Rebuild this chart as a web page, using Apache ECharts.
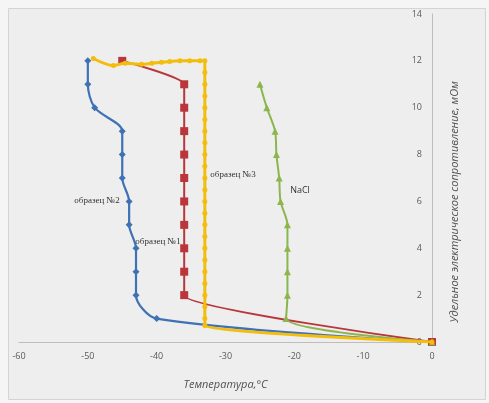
<!DOCTYPE html>
<html>
<head>
<meta charset="utf-8">
<script src="https://cdn.jsdelivr.net/npm/echarts@6/dist/echarts.min.js"></script>
<style>
  html, body { margin: 0; padding: 0; background: #f5f5f5; }
  #chart { width: 489px; height: 403px; }
</style>
</head>
<body>
<div id="chart"></div>
<script>
// Temperature (°C) and resistivity (mOhm) per sample
const sample2Temp = [-50, -50, -49, -45, -45, -45, -44, -44, -43, -43, -43, -40, 0];
const sample2Res  = [12, 11, 10, 9, 8, 7, 6, 5, 4, 3, 2, 1, 0];

const sample1Temp = [-45, -36, -36, -36, -36, -36, -36, -36, -36, -36, -36, 0];
const sample1Res  = [12, 11, 10, 9, 8, 7, 6, 5, 4, 3, 2, 0];

const naclTemp = [-25, -24, -22.8, -22.6, -22.2, -22, -21, -21, -21, -21, -21.2, 0];
const naclRes  = [11, 10, 9, 8, 7, 6, 5, 4, 3, 2, 1, 0];

const sample3Temp = [-49.2, -46.3, -44.6, -42.2, -40.7, -39.3, -38.1, -36.6, -35.2, -33.7, -33,
  -33, -33, -33, -33, -33, -33, -33, -33, -33, -33, -33,
  -33, -33, -33, -33, -33, -33, -33, -33, -33, -33, -33,
  -33, 0];
const sample3Res = [12.1, 11.8, 11.9, 11.85, 11.9, 11.94, 11.97, 12, 12, 12, 12,
  11.5, 11, 10.5, 10, 9.5, 9, 8.5, 8, 7.5, 7, 6.5,
  6, 5.5, 5, 4.5, 4, 3.5, 3, 2.5, 2, 1.5, 1,
  0.7, 0];

const xTicks = { min: -60, max: 0, interval: 10 };
const yTicks = { min: 0, max: 14, interval: 2 };

const pairs = (xs, ys) => xs.map((x, i) => [x, ys[i]]);

const chart = echarts.init(document.getElementById('chart'), null, { renderer: 'canvas' });

const labelFont = { fontFamily: 'Liberation Serif', fontSize: 9, fill: '#333' };

chart.setOption({
  backgroundColor: 'transparent',
  animation: false,
  graphic: [
    { type: 'rect', z: -10, shape: { x: 8.5, y: 8.5, width: 477, height: 391 },
      style: { fill: '#eeeeee', stroke: '#d4d4d4', lineWidth: 1 } },
    { type: 'text', x: 455, y: 202, rotation: Math.PI / 2,
      style: { text: 'Удельное электрическое сопротивление, мОм', fontFamily: 'Open Sans',
        fontStyle: 'italic', fontSize: 11, fill: '#505050', align: 'center', verticalAlign: 'middle' } },
    { type: 'text', x: 97, y: 201, style: Object.assign({ text: 'образец №2', align: 'center', verticalAlign: 'middle' }, labelFont) },
    { type: 'text', x: 158, y: 242, style: Object.assign({ text: 'образец №1', align: 'center', verticalAlign: 'middle' }, labelFont) },
    { type: 'text', x: 233, y: 175, style: Object.assign({ text: 'образец №3', align: 'center', verticalAlign: 'middle' }, labelFont) },
    { type: 'text', x: 300, y: 190, style: { text: 'NaCl', fontFamily: 'Open Sans', fontSize: 9, fill: '#333', align: 'center', verticalAlign: 'middle' } }
  ],
  grid: { left: 19, right: 57, top: 14, bottom: 61, containLabel: false },
  xAxis: {
    type: 'value', min: xTicks.min, max: xTicks.max, interval: xTicks.interval,
    name: 'Температура,°С', nameLocation: 'middle', nameGap: 37,
    nameTextStyle: { fontFamily: 'Open Sans', fontStyle: 'italic', fontSize: 11, color: '#505050' },
    axisLine: { lineStyle: { color: '#bdbdbd', width: 1 } },
    axisTick: { show: false },
    splitLine: { show: false },
    axisLabel: { fontFamily: 'Open Sans', fontSize: 9, color: '#5a5a5a', margin: 10 }
  },
  yAxis: {
    type: 'value', position: 'right', min: yTicks.min, max: yTicks.max, interval: yTicks.interval,
    axisLine: { show: true, lineStyle: { color: '#bdbdbd', width: 1 } },
    axisTick: { show: false },
    splitLine: { show: false },
    axisLabel: { inside: true, fontFamily: 'Open Sans', fontSize: 9, color: '#5a5a5a', margin: 10 }
  },
  series: [
    { name: 'образец №2', type: 'line', data: pairs(sample2Temp, sample2Res), smooth: 0.3,
      symbol: 'diamond', symbolSize: 7, z: 2,
      lineStyle: { color: '#3f72b5', width: 2.2 }, itemStyle: { color: '#3f72b5' } },
    { name: 'образец №1', type: 'line', data: pairs(sample1Temp, sample1Res), smooth: 0.2,
      symbol: 'rect', symbolSize: 8, z: 3,
      lineStyle: { color: '#b9373a', width: 2 }, itemStyle: { color: '#b9373a' } },
    { name: 'NaCl', type: 'line', data: pairs(naclTemp, naclRes), smooth: 0.3,
      symbol: 'triangle', symbolSize: 7, z: 3,
      lineStyle: { color: '#8db54e', width: 2 }, itemStyle: { color: '#8db54e' } },
    { name: 'образец №3', type: 'line', data: pairs(sample3Temp, sample3Res), smooth: 0.3,
      symbol: 'circle', symbolSize: 5, z: 4,
      lineStyle: { color: '#f3bd0c', width: 3 }, itemStyle: { color: '#f3bd0c' } }
  ]
});
</script>
</body>
</html>
